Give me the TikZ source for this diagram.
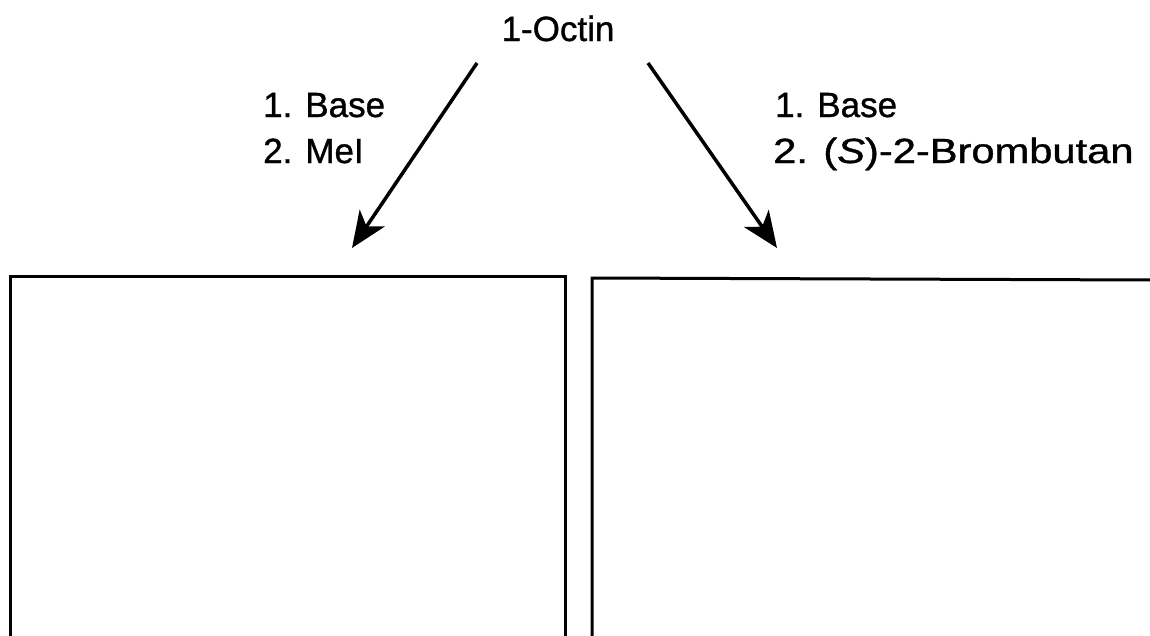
\documentclass[tikz,border=0pt]{standalone}
\usepackage{fontspec}
\setmainfont{Liberation Sans}[FakeBold=1.0]
\usetikzlibrary{arrows.meta}

\tikzset{
 chem/.style={inner sep=0pt, font=\fontsize{35}{46}\selectfont},
 rxn/.style={line width=3.5pt, -{Stealth[length=36pt,width=30pt,inset=10pt]}},
 answerbox/.style={line width=3pt}
}

\begin{document}
\begin{tikzpicture}[x=1pt,y=-1pt]
 \useasboundingbox (0,0) rectangle (1150,635);
 \node[chem,anchor=base] (octin) at (558,41) {1-Octin};
 \coordinate (startL) at (477,63);
 \coordinate (endL) at (352,248);
 \coordinate (startR) at (648,63);
 \coordinate (endR) at (777,248);
 \draw[rxn] (startL)--(endL);
 \draw[rxn] (startR)--(endR);
 % reagents, left route
 \node[chem,anchor=base west] (baseL) at (263,117) {1. Base};
 \node[chem,anchor=base west] (meiL) at (263,163) {2. MeI};
 % reagents, right route
 \node[chem,anchor=base west] (baseR) at (775,117) {1. Base};
 \node[chem,anchor=base west] (bromR) at (773,163) {\scalebox{1.19}[1]{2. (\textit{S})-2-Brombutan}};
 % empty product boxes
 \draw[answerbox] (10,640)--(10,276)--(565,276)--(565,640);
 \draw[answerbox] (592,640)--(592,278)--(1152,280);
 \end{tikzpicture}
\end{document}
